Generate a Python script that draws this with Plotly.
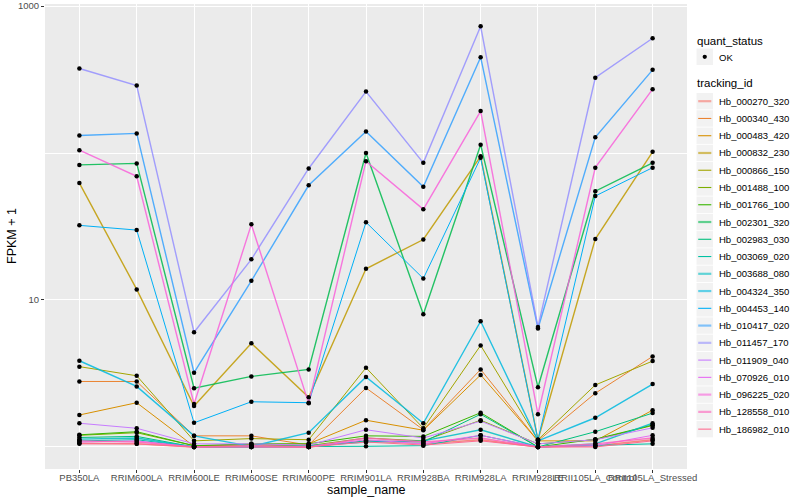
import plotly.graph_objects as go

samples = ["PB350LA", "RRIM600LA", "RRIM600LE", "RRIM600SE", "RRIM600PE", "RRIM901LA",
           "RRIM928BA", "RRIM928LA", "RRIM928LE", "RRII105LA_Control", "RRII105LA_Stressed"]

tracking_ids = ["Hb_000270_320", "Hb_000340_430", "Hb_000483_420", "Hb_000832_230", "Hb_000866_150",
                "Hb_001488_100", "Hb_001766_100", "Hb_002301_320", "Hb_002983_030", "Hb_003069_020",
                "Hb_003688_080", "Hb_004324_350", "Hb_004453_140", "Hb_010417_020", "Hb_011457_170",
                "Hb_011909_040", "Hb_070926_010", "Hb_096225_020", "Hb_128558_010", "Hb_186982_010"]

colors = ["#F8766D", "#EA8331", "#D89000", "#C09B00", "#A3A500", "#7CAE00", "#39B600", "#00BB4E",
          "#00BF7D", "#00C1A3", "#00BFC4", "#00BAE0", "#00B0F6", "#35A2FF", "#9590FF", "#C77CFF",
          "#E76BF3", "#FA62DB", "#FF62BC", "#FF6C90"]

# FPKM + 1 values per tracking id (order follows samples)
v_000270 = [1.06, 1.05, 1.00, 1.01, 1.00, 1.10, 1.05, 1.12, 1.00, 1.02, 1.12]
v_000340 = [2.79, 2.79, 1.19, 1.19, 1.03, 2.52, 1.31, 3.37, 1.10, 2.32, 4.13]
v_000483 = [1.65, 2.00, 1.01, 1.04, 1.05, 1.52, 1.30, 3.09, 1.10, 1.10, 1.78]
v_000832 = [62.4, 11.8, 1.90, 5.07, 2.18, 16.3, 25.8, 95.0, 1.12, 26.0, 102.0]
v_000866 = [3.52, 3.05, 1.10, 1.14, 1.12, 3.46, 1.34, 4.91, 1.12, 2.64, 3.84]
v_001488 = [1.20, 1.25, 1.02, 1.03, 1.02, 1.15, 1.10, 1.52, 1.05, 1.12, 1.40]
v_001766 = [1.21, 1.27, 1.02, 1.05, 1.05, 1.19, 1.18, 1.71, 1.00, 1.13, 1.41]
v_002301 = [83.0, 85.0, 2.51, 3.02, 3.37, 100.0, 8.0, 114.0, 2.55, 55.0, 85.7]
v_002983 = [1.16, 1.18, 1.00, 1.00, 1.00, 1.10, 1.08, 1.67, 1.00, 1.27, 1.70]
v_003069 = [1.10, 1.12, 1.00, 1.00, 1.00, 1.01, 1.02, 1.20, 1.00, 1.02, 1.05]
v_003688 = [1.13, 1.15, 1.00, 1.00, 1.02, 1.08, 1.10, 1.31, 1.00, 1.05, 1.45]
v_004324 = [3.86, 2.58, 1.19, 1.01, 1.25, 2.99, 1.45, 7.17, 1.10, 1.58, 2.68]
v_004453 = [32.2, 29.9, 1.46, 2.03, 2.00, 33.8, 14.0, 92.7, 1.12, 51.0, 79.5]
v_010417 = [131.5, 136.0, 3.20, 13.5, 60.3, 140.0, 59.0, 449.0, 6.40, 128.0, 368.0]
v_011457 = [376.0, 288.0, 6.03, 18.9, 78.5, 262.0, 85.7, 728.0, 6.56, 325.0, 604.0]
v_011909 = [1.45, 1.34, 1.05, 1.05, 1.03, 1.31, 1.15, 1.50, 1.05, 1.12, 1.35]
v_070926 = [1.08, 1.10, 1.00, 1.00, 1.00, 1.12, 1.05, 1.20, 1.00, 1.02, 1.20]
v_096225 = [104.5, 69.4, 1.96, 32.7, 1.98, 88.0, 41.4, 193.0, 1.67, 79.5, 272.0]
v_128558 = [1.10, 1.08, 1.00, 1.02, 1.00, 1.15, 1.08, 1.15, 1.00, 1.05, 1.15]
v_186982 = [1.05, 1.05, 1.00, 1.00, 1.00, 1.08, 1.03, 1.10, 1.00, 1.00, 1.10]

values = [v_000270, v_000340, v_000483, v_000832, v_000866, v_001488, v_001766, v_002301,
          v_002983, v_003069, v_003688, v_004324, v_004453, v_010417, v_011457, v_011909,
          v_070926, v_096225, v_128558, v_186982]

thick = {"Hb_000270_320", "Hb_000832_230", "Hb_002301_320", "Hb_003688_080", "Hb_004324_350",
         "Hb_010417_020", "Hb_011457_170", "Hb_096225_020", "Hb_128558_010"}

FONT = "Liberation Sans, Arial, sans-serif"
W, H = 800, 500
ML, MR, MT, MB = 45, 113, 4, 31
PW, PH = W - ML - MR, H - MT - MB


def px(xp):
    return (xp - ML) / PW


def py(yp):
    return 1 - (yp - MT) / PH


fig = go.Figure()

for tid, col, vals in zip(tracking_ids, colors, values):
    fig.add_trace(go.Scatter(
        x=samples, y=vals, mode="lines", name=tid, showlegend=False,
        line=dict(color=col, width=1.4 if tid in thick else 1.0),
        opacity=0.85 if tid in thick else 1.0,
    ))

all_x, all_y = [], []
for vals in values:
    all_x += samples
    all_y += vals
fig.add_trace(go.Scatter(x=all_x, y=all_y, mode="markers", showlegend=False, name="OK",
                         marker=dict(color="black", size=4.5), hoverinfo="skip"))

# ---- legend drawn in the right margin (ggplot style) ----
shapes, annos = [], []
KEY_X0, KEY_X1, TXT_X = 696.5, 713, 717
annos.append(dict(text="quant_status", x=px(695), y=py(40.5), xref="paper", yref="paper",
                  xanchor="left", yanchor="middle", showarrow=False,
                  font=dict(size=11.5, color="black")))
shapes.append(dict(type="rect", xref="paper", yref="paper", x0=px(KEY_X0), x1=px(KEY_X1),
                   y0=py(65), y1=py(48.5), fillcolor="#F2F2F2", line=dict(width=0), layer="above"))
shapes.append(dict(type="circle", xref="paper", yref="paper", x0=px(702.6), x1=px(706.9),
                   y0=py(59), y1=py(54.7), fillcolor="black", line=dict(width=0), layer="above"))
annos.append(dict(text="OK", x=px(TXT_X), y=py(57), xref="paper", yref="paper",
                  xanchor="left", yanchor="middle", showarrow=False,
                  font=dict(size=9.5, color="black")))
annos.append(dict(text="tracking_id", x=px(695), y=py(83), xref="paper", yref="paper",
                  xanchor="left", yanchor="middle", showarrow=False,
                  font=dict(size=11.5, color="black")))
for i, (tid, col) in enumerate(zip(tracking_ids, colors)):
    yc = 101.2 + i * 17.26
    shapes.append(dict(type="rect", xref="paper", yref="paper", x0=px(KEY_X0), x1=px(KEY_X1),
                       y0=py(yc + 8.2), y1=py(yc - 8.2), fillcolor="#F2F2F2",
                       line=dict(width=0), layer="above"))
    shapes.append(dict(type="line", xref="paper", yref="paper", x0=px(698.2), x1=px(711.3),
                       y0=py(yc), y1=py(yc), layer="above",
                       line=dict(color=col, width=2.2 if tid in thick else 1.1),
                       opacity=0.6 if tid in thick else 1.0))
    annos.append(dict(text=tid, x=px(TXT_X), y=py(yc), xref="paper", yref="paper",
                      xanchor="left", yanchor="middle", showarrow=False,
                      font=dict(size=9.5, color="black")))

# axis titles
annos.append(dict(text="sample_name", x=px((ML + W - MR) / 2), y=py(489.5), xref="paper", yref="paper",
                  xanchor="center", yanchor="middle", showarrow=False,
                  font=dict(size=12.5, color="black")))
annos.append(dict(text="FPKM + 1", x=px(12), y=py(236), xref="paper", yref="paper",
                  xanchor="center", yanchor="middle", showarrow=False, textangle=-90,
                  font=dict(size=12.5, color="black")))

fig.update_layout(
    width=W, height=H,
    margin=dict(l=ML, r=MR, t=MT, b=MB),
    paper_bgcolor="white", plot_bgcolor="#EBEBEB",
    font=dict(family=FONT, size=10, color="black"),
    showlegend=False,
    shapes=shapes, annotations=annos,
    xaxis=dict(
        type="category", range=[-0.6, 10.6], automargin=False,
        tickmode="array", tickvals=samples, ticktext=samples, tickangle=0,
        showgrid=True, gridcolor="white", gridwidth=1.1,
        ticks="outside", ticklen=3, tickcolor="#333333",
        ticklabelstandoff=-3,
        tickfont=dict(size=9.5, color="#4D4D4D"),
        zeroline=False, showline=False,
    ),
    yaxis=dict(
        type="log", range=[-0.15, 3.014], automargin=False,
        tickmode="array", tickvals=[10, 1000], ticktext=["10", "1000"],
        showgrid=True, gridcolor="white", gridwidth=1.1,
        minor=dict(tickmode="array", tickvals=[1, 100], showgrid=True,
                   gridcolor="white", gridwidth=0.5, ticks=""),
        ticks="outside", ticklen=3, tickcolor="#333333",
        tickfont=dict(size=9.5, color="#4D4D4D"),
        zeroline=False, showline=False,
    ),
)

fig.write_html("out.html", config={"displayModeBar": False},
               post_script="document.body.style.margin='0';document.body.style.padding='0';")
